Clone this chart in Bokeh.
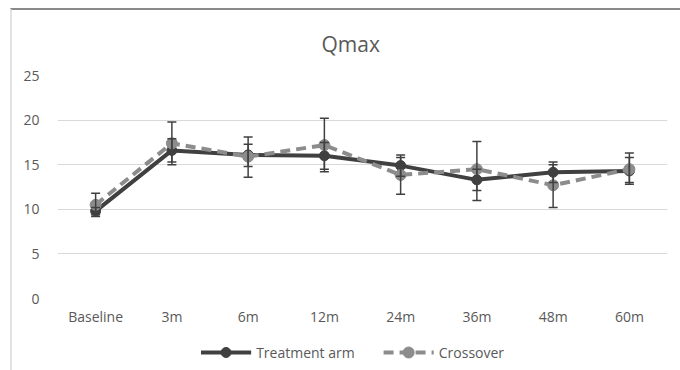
from bokeh.plotting import figure
from bokeh.layouts import column
from bokeh.models import ColumnDataSource, FixedTicker, Range1d
from bokeh.core.properties import value
from bokeh.embed import file_html
from bokeh.resources import INLINE

categories = ["Baseline", "3m", "6m", "12m", "24m", "36m", "48m", "60m"]
treatment = [9.8, 16.6, 16.1, 16.0, 14.9, 13.3, 14.15, 14.3]
treatment_low = [9.4, 15.3, 14.8, 14.5, 13.7, 12.1, 13.0, 12.8]
treatment_high = [10.2, 17.9, 17.3, 17.5, 16.1, 14.5, 15.3, 15.8]
crossover = [10.5, 17.4, 15.9, 17.2, 13.85, 14.5, 12.7, 14.5]
crossover_low = [9.2, 15.0, 13.6, 14.2, 11.7, 11.0, 10.2, 13.0]
crossover_high = [11.8, 19.8, 18.1, 20.2, 15.8, 17.6, 15.0, 16.3]
y_ticks = [0, 5, 10, 15, 20, 25]
series_names = ["Treatment arm", "Crossover"]

TXT = "#595959"
DARK = "#404040"
LIGHT = "#8c8c8c"

p = figure(x_range=categories, y_range=(0, 25), width=670, height=330,
           output_backend="svg", toolbar_location=None,
           min_border_left=45, min_border_right=15, min_border_top=61, min_border_bottom=42)
p.styles = {"border-top": "2px solid #8a8a8a", "border-left": "2px solid #e2e2e2"}
p.title.text = "Qmax"
p.title.align = "left"
p.title.text_color = TXT
p.title.text_font = "Open Sans"
p.title.text_font_size = "21px"
p.title.text_font_style = "normal"
p.title.offset = 264
p.title.standoff = 35
p.outline_line_color = None
p.xgrid.grid_line_color = None
p.ygrid.grid_line_color = "#d9d9d9"
p.ygrid.grid_line_width = 1
p.yaxis.ticker = FixedTicker(ticks=y_ticks)
for ax in (p.xaxis, p.yaxis):
    ax.axis_line_color = None
    ax.major_tick_line_color = None
    ax.minor_tick_line_color = None
    ax.major_label_text_color = TXT
    ax.major_label_text_font = "Open Sans"
    ax.major_label_text_font_size = "14px"
p.yaxis.major_label_standoff = 12
p.xaxis.major_label_standoff = 2

src = ColumnDataSource(dict(x=categories, t=treatment, tl=treatment_low, th=treatment_high,
                            c=crossover, cl=crossover_low, ch=crossover_high))

# treatment series
p.line("x", "t", source=src, line_color=DARK, line_width=4)
p.scatter("x", "t", source=src, size=10, fill_color=DARK, line_color=DARK)
# crossover series
p.line("x", "c", source=src, line_color=LIGHT, line_width=4, line_dash="10 6")
p.scatter("x", "c", source=src, size=11, fill_color=LIGHT, line_color=LIGHT)

# error bars
for lo, hi in (("tl", "th"), ("cl", "ch")):
    p.segment(x0="x", y0=lo, x1="x", y1=hi, source=src, line_color=DARK, line_width=1.5)
    p.scatter("x", lo, source=src, marker="dash", size=9, line_color=DARK, line_width=1.5)
    p.scatter("x", hi, source=src, marker="dash", size=9, line_color=DARK, line_width=1.5)

# legend strip (separate small figure so it is not clipped by the plot frame);
# its frame is aligned with the main frame, so the range spans the frame's pixel extent
leg = figure(width=670, height=32, x_range=Range1d(45, 653), y_range=Range1d(0, 32),
             output_backend="svg", toolbar_location=None, x_axis_type=None, y_axis_type=None,
             min_border=0, min_border_left=0, min_border_right=0, min_border_top=0, min_border_bottom=0)
leg.styles = {"border-left": "2px solid #e2e2e2"}
leg.outline_line_color = None
leg.xgrid.grid_line_color = None
leg.ygrid.grid_line_color = None
ly = 18
leg.line([188, 238], [ly, ly], line_color=DARK, line_width=4)
leg.scatter([213], [ly], size=10, fill_color=DARK, line_color=DARK)
leg.line([370, 420], [ly, ly], line_color=LIGHT, line_width=4, line_dash="10 6")
leg.scatter([395], [ly], size=11, fill_color=LIGHT, line_color=LIGHT)
leg.text(x=[243, 425], y=[ly, ly], text=series_names, text_color=TXT,
         text_font=value("Open Sans"), text_font_size="14px", text_baseline="middle")

layout = column(p, leg, spacing=0, styles={"margin-top": "8px", "margin-left": "10px"})

open("out.html", "w").write(file_html(layout, INLINE))
